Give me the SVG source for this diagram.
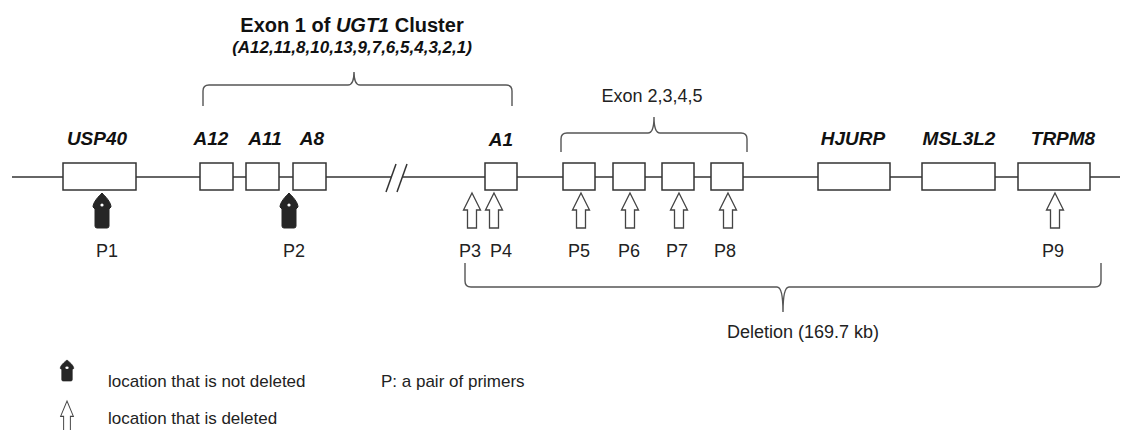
<svg xmlns="http://www.w3.org/2000/svg" width="1126" height="430" viewBox="0 0 1126 430">
<style>
.bg{fill:#ffffff}
.box{fill:#ffffff;stroke:#333333;stroke-width:1.5}
.ln{fill:none;stroke:#333333;stroke-width:1.5}
.br{fill:none;stroke:#555555;stroke-width:1.4}
.gene{font-family:"Liberation Sans",Arial,sans-serif;font-weight:bold;font-style:italic;font-size:19px;fill:#111111;text-anchor:middle}
.title{font-family:"Liberation Sans",Arial,sans-serif;font-weight:bold;font-size:20px;fill:#111111;text-anchor:middle}
.sub{font-family:"Liberation Sans",Arial,sans-serif;font-weight:bold;font-style:italic;font-size:17px;fill:#111111;text-anchor:middle}
.lab{font-family:"Liberation Sans",Arial,sans-serif;font-size:18px;fill:#222222;text-anchor:middle}
.leg{font-family:"Liberation Sans",Arial,sans-serif;font-size:17px;fill:#222222}
.dark{fill:#262626;stroke:#262626;stroke-width:1;stroke-linejoin:round}
.open{fill:#ffffff;stroke:#444444;stroke-width:1.3;stroke-linejoin:miter}
</style>
<defs>
<path id="darr" d="M0,0 C3,3 9,9 9,14 L7,16 L7,33 Q7,35 5,35 L-5,35 Q-7,35 -7,33 L-7,16 L-9,14 C-9,9 -3,3 0,0 Z"/>
<path id="oarr" d="M0,0 L8.5,17 L4.5,17 L4.5,35 L-4.5,35 L-4.5,17 L-8.5,17 Z"/>
</defs>
<rect class="bg" x="0" y="0" width="1126" height="430"/>

<g id="connectors">
  <line class="ln" x1="12" y1="177" x2="391" y2="177"/>
  <line class="ln" x1="403" y1="177" x2="1120" y2="177"/>
  <line class="ln" x1="386" y1="192" x2="396" y2="164"/>
  <line class="ln" x1="397" y1="192" x2="407" y2="164"/>
  <path id="bracket-exon1" class="br" d="M203,106 L203,91 Q203,85 209,85 L348,85 Q354,85 354,72 Q354,85 360,85 L506,85 Q512,85 512,91 L512,106"/>
  <path id="bracket-exon25" class="br" d="M561,152 L561,139 Q561,133 567,133 L648,133 Q654,133 654,117 Q654,133 660,133 L741,133 Q747,133 747,139 L747,152"/>
  <path id="bracket-deletion" class="br" d="M465,263 L465,281 Q465,287 471,287 L777,287 Q783,287 783,312 Q783,287 789,287 L1095,287 Q1101,287 1101,281 L1101,263"/>
</g>

<g id="title">
  <text class="title" x="352" y="32">Exon 1 of <tspan font-style="italic">UGT1</tspan> Cluster</text>
  <text class="sub" x="352" y="53">(A12,11,8,10,13,9,7,6,5,4,3,2,1)</text>
</g>
<g id="exon25-label"><text class="lab" x="652" y="102" font-size="17">Exon 2,3,4,5</text></g>

<g id="USP40"><rect class="box" x="63" y="163" width="73" height="27"/><text class="gene" x="97" y="145">USP40</text></g>
<g id="A12"><rect class="box" x="200" y="163" width="33" height="27"/><text class="gene" x="211" y="145">A12</text></g>
<g id="A11"><rect class="box" x="246" y="163" width="33" height="27"/><text class="gene" x="265" y="145">A11</text></g>
<g id="A8"><rect class="box" x="293" y="163" width="33" height="27"/><text class="gene" x="312" y="145">A8</text></g>
<g id="A1"><rect class="box" x="485" y="163" width="32" height="27"/><text class="gene" x="501" y="146">A1</text></g>
<g id="exon2"><rect class="box" x="563" y="163" width="32" height="27"/></g>
<g id="exon3"><rect class="box" x="613" y="163" width="32" height="27"/></g>
<g id="exon4"><rect class="box" x="662" y="163" width="32" height="27"/></g>
<g id="exon5"><rect class="box" x="711" y="163" width="32" height="27"/></g>
<g id="HJURP"><rect class="box" x="818" y="163" width="72" height="27"/><text class="gene" x="853" y="145">HJURP</text></g>
<g id="MSL3L2"><rect class="box" x="922" y="163" width="73" height="27"/><text class="gene" x="959" y="145">MSL3L2</text></g>
<g id="TRPM8"><rect class="box" x="1018" y="163" width="72" height="27"/><text class="gene" x="1063" y="145">TRPM8</text></g>

<g id="P1"><use href="#darr" class="dark" x="102" y="193"/><circle cx="102" cy="205" r="1.6" fill="#ffffff"/><text class="lab" x="107" y="257">P1</text></g>
<g id="P2"><use href="#darr" class="dark" x="289" y="193"/><circle cx="289" cy="205" r="1.6" fill="#ffffff"/><text class="lab" x="294" y="257">P2</text></g>
<g id="P3"><use href="#oarr" class="open" x="472" y="193"/><text class="lab" x="470" y="257">P3</text></g>
<g id="P4"><use href="#oarr" class="open" x="494" y="193"/><text class="lab" x="501" y="257">P4</text></g>
<g id="P5"><use href="#oarr" class="open" x="581" y="193"/><text class="lab" x="579" y="257">P5</text></g>
<g id="P6"><use href="#oarr" class="open" x="630" y="193"/><text class="lab" x="629" y="257">P6</text></g>
<g id="P7"><use href="#oarr" class="open" x="679" y="193"/><text class="lab" x="677" y="257">P7</text></g>
<g id="P8"><use href="#oarr" class="open" x="728" y="193"/><text class="lab" x="725" y="257">P8</text></g>
<g id="P9"><use href="#oarr" class="open" x="1055" y="193"/><text class="lab" x="1053" y="257">P9</text></g>

<g id="deletion-label"><text class="lab" x="803" y="338" font-size="19">Deletion (169.7 kb)</text></g>

<g id="legend">
  <g transform="translate(67,360) scale(0.75,0.6)"><use href="#darr" class="dark"/><circle cx="0" cy="13" r="2.2" fill="#ffffff"/></g>
  <text class="leg" x="108" y="387">location that is not deleted</text>
  <text class="leg" x="381" y="387">P: a pair of primers</text>
  <g transform="translate(67,401) scale(0.75,0.9)"><use href="#oarr" class="open"/></g>
  <text class="leg" x="108" y="424">location that is deleted</text>
</g>
</svg>
